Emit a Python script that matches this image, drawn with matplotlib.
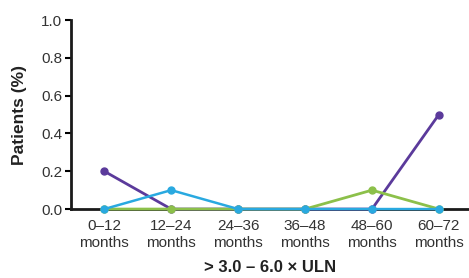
import matplotlib
matplotlib.use('Agg')
import matplotlib.pyplot as plt

plt.rcParams['font.family'] = ['Liberation Sans', 'DejaVu Sans']

# --- Data ---
categories = ['0\u201312\nmonths', '12\u201324\nmonths', '24\u201336\nmonths',
              '36\u201348\nmonths', '48\u201360\nmonths', '60\u201372\nmonths']
purple = [0.2, 0.0, 0.0, 0.0, 0.0, 0.5]
green = [0.0, 0.0, 0.0, 0.0, 0.1, 0.0]
blue = [0.0, 0.1, 0.0, 0.0, 0.0, 0.0]

x = list(range(len(categories)))

fig = plt.figure(figsize=(4.69, 2.78), dpi=100)
ax = fig.add_axes([0.151, 0.248, 0.849, 0.68])

ax.plot(x, purple, color='#5b3a9b', lw=2, marker='o', ms=5, clip_on=False, zorder=3)
ax.plot(x, green, color='#8cc04a', lw=2, marker='o', ms=5, clip_on=False, zorder=4)
ax.plot(x, blue, color='#29a9e0', lw=1.8, marker='o', ms=5, clip_on=False, zorder=5)

ax.set_xlim(-0.5, 5.45)
ax.set_ylim(0, 1.0)
ax.set_yticks([0.0, 0.2, 0.4, 0.6, 0.8, 1.0])
ax.set_yticklabels(['0.0', '0.2', '0.4', '0.6', '0.8', '1.0'])
ax.set_xticks(x)
ax.set_xticklabels(categories, fontsize=11, color='#333333', linespacing=1.3)
ax.tick_params(axis='y', labelsize=11, labelcolor='#333333', width=1.5, length=4, pad=2)
ax.tick_params(axis='x', length=0, pad=7)

for s in ['top', 'right']:
    ax.spines[s].set_visible(False)
for s in ['left', 'bottom']:
    ax.spines[s].set_linewidth(2)
    ax.spines[s].set_color('#1a1a1a')

ax.set_ylabel('Patients (%)', fontsize=12.5, fontweight='bold', color='#222222', labelpad=10)
ax.set_xlabel('> 3.0 \u2013 6.0 \u00d7 ULN', fontsize=12, fontweight='bold', color='#222222', labelpad=7)

fig.savefig('out.png', dpi=100)
